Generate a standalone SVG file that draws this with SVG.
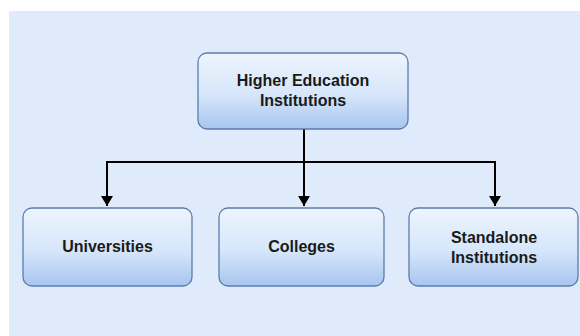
<svg xmlns="http://www.w3.org/2000/svg" width="580" height="336" viewBox="0 0 580 336">
  <defs>
    <linearGradient id="boxFill" x1="0" y1="0" x2="0" y2="1">
      <stop offset="0" stop-color="#edf4fd"/>
      <stop offset="0.55" stop-color="#d6e6fa"/>
      <stop offset="1" stop-color="#a7c5f0"/>
    </linearGradient>
    <marker id="arrow" viewBox="0 0 10 12" refX="10" refY="6" markerWidth="10" markerHeight="12" markerUnits="userSpaceOnUse" orient="auto">
      <path d="M0,0 L10,6 L0,12 Z" fill="#000"/>
    </marker>
    <style>
      .box { fill: url(#boxFill); stroke: #5a7dab; stroke-width: 1.3; }
      .label { font-family: "Liberation Sans", Arial, sans-serif; font-weight: bold; font-size: 16px; fill: #1a1a1a; text-anchor: middle; }
      .conn { fill: none; stroke: #000; stroke-width: 2; }
    </style>
  </defs>
  <rect x="0" y="0" width="580" height="336" fill="#ffffff"/>
  <rect x="9" y="11" width="571" height="325" fill="#dfeafb"/>

  <g id="connectors">
    <path class="conn" d="M304,129 V162"/>
    <path class="conn" d="M107,162 H495"/>
    <path class="conn" d="M107,161 V206" marker-end="url(#arrow)"/>
    <path class="conn" d="M304,162 V206" marker-end="url(#arrow)"/>
    <path class="conn" d="M495,161 V206" marker-end="url(#arrow)"/>
  </g>

  <g id="higher-education">
    <rect class="box" x="198" y="53" width="210" height="76" rx="9"/>
    <text class="label" x="303" y="86">Higher Education</text>
    <text class="label" x="303" y="106">Institutions</text>
  </g>

  <g id="universities">
    <rect class="box" x="23" y="208" width="169" height="78" rx="9"/>
    <text class="label" x="107.5" y="252">Universities</text>
  </g>

  <g id="colleges">
    <rect class="box" x="219" y="208" width="165" height="78" rx="9"/>
    <text class="label" x="301.5" y="252">Colleges</text>
  </g>

  <g id="standalone">
    <rect class="box" x="409" y="208" width="169" height="78" rx="9"/>
    <text class="label" x="494" y="243">Standalone</text>
    <text class="label" x="494" y="263">Institutions</text>
  </g>
</svg>
